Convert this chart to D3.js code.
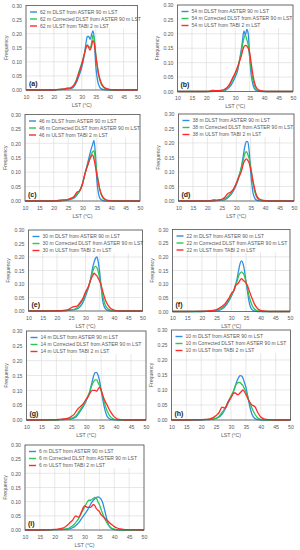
<!DOCTYPE html>
<html><head><meta charset="utf-8">
<script src="https://cdn.jsdelivr.net/npm/d3@7"></script>
<style>body{margin:0;background:#fff}svg{display:block}text{font-family:"Liberation Sans",Arial,sans-serif}</style>
</head><body><div id="chart"></div>
<script>
// LST grid (°C)
const lst = [10,15,20,21,22,23,24,25,26,27,28,29,30,31,31.5,32,32.5,33,33.5,34,34.5,35,35.5,36,37,38,39,40,41,42,43,45,50];
const xTicks = [10,15,20,25,30,35,40,45,50];
const yTicks = [0,0.05,0.10,0.15,0.20,0.25,0.30];
const resolutions = [62,54,46,38,30,22,14,10,6];
const panelLabels = ["(a)","(b)","(c)","(d)","(e)","(f)","(g)","(h)","(i)"];
const seriesColors = ["#2f8ee0","#2dc653","#ff2b2b"];

// (a) 62 m
const dlst_a = [0,0,0,0.001,0.001,0.002,0.003,0.004,0.005,0.01,0.025,0.05,0.08,0.13,0.165,0.19,0.19,0.18,0.195,0.21,0.18,0.09,0.045,0.02,0.004,0.001,0,0,0,0,0,0,0];
const corr_a = [0,0,0,0.001,0.002,0.003,0.004,0.006,0.008,0.015,0.035,0.065,0.095,0.13,0.15,0.16,0.155,0.15,0.165,0.195,0.18,0.13,0.09,0.055,0.02,0.008,0.003,0.001,0,0,0,0,0];
const ulst_a = [0,0,0,0.001,0.002,0.003,0.004,0.007,0.007,0.015,0.03,0.06,0.09,0.13,0.15,0.158,0.15,0.142,0.155,0.175,0.165,0.125,0.09,0.06,0.025,0.01,0.005,0.002,0.001,0,0,0,0];
// (b) 54 m
const dlst_b = [0,0,0,0,0,0.001,0.001,0.002,0.003,0.006,0.015,0.03,0.05,0.08,0.11,0.14,0.175,0.21,0.195,0.215,0.2,0.12,0.06,0.03,0.005,0.001,0,0,0,0,0,0,0];
const corr_b = [0,0,0,0,0.001,0.001,0.002,0.003,0.005,0.01,0.02,0.04,0.06,0.09,0.11,0.13,0.16,0.185,0.195,0.18,0.16,0.12,0.08,0.045,0.012,0.003,0.001,0,0,0,0,0,0];
const ulst_b = [0,0,0,0.001,0.004,0.003,0.003,0.004,0.006,0.012,0.025,0.045,0.065,0.09,0.105,0.12,0.14,0.155,0.16,0.158,0.15,0.135,0.1,0.065,0.02,0.006,0.002,0.001,0,0,0,0,0];
// (c) 46 m
const dlst_c = [0,0,0,0,0,0.001,0.002,0.004,0.006,0.01,0.02,0.035,0.06,0.1,0.12,0.14,0.16,0.18,0.195,0.21,0.16,0.07,0.03,0.01,0.002,0,0,0,0,0,0,0,0];
const corr_c = [0,0,0,0,0.001,0.002,0.003,0.005,0.008,0.013,0.025,0.035,0.06,0.1,0.115,0.13,0.145,0.16,0.17,0.175,0.14,0.1,0.07,0.04,0.012,0.004,0.001,0,0,0,0,0,0];
const ulst_c = [0,0,0,0.001,0.003,0.004,0.004,0.006,0.01,0.015,0.03,0.035,0.06,0.1,0.115,0.13,0.145,0.155,0.16,0.145,0.12,0.09,0.065,0.04,0.015,0.005,0.002,0.001,0,0,0,0,0];
// (d) 38 m
const dlst_d = [0,0,0,0,0,0.001,0.002,0.003,0.004,0.01,0.02,0.035,0.055,0.085,0.105,0.13,0.16,0.19,0.205,0.205,0.17,0.1,0.05,0.02,0.003,0.001,0,0,0,0,0,0,0];
const corr_d = [0,0,0,0,0.001,0.002,0.003,0.005,0.008,0.015,0.025,0.04,0.06,0.09,0.105,0.12,0.145,0.165,0.17,0.16,0.145,0.12,0.085,0.05,0.015,0.004,0.001,0,0,0,0,0,0];
const ulst_d = [0,0,0,0.001,0.004,0.003,0.004,0.006,0.012,0.025,0.03,0.04,0.06,0.085,0.095,0.11,0.13,0.14,0.145,0.14,0.13,0.11,0.085,0.06,0.02,0.007,0.003,0.001,0,0,0,0,0];
// (e) 30 m
const dlst_e = [0,0,0,0,0.001,0.001,0.002,0.004,0.005,0.008,0.015,0.03,0.055,0.085,0.105,0.13,0.16,0.18,0.195,0.2,0.18,0.14,0.09,0.04,0.008,0.002,0,0,0,0,0,0,0];
const corr_e = [0,0,0,0.001,0.001,0.002,0.003,0.005,0.006,0.012,0.025,0.04,0.065,0.09,0.105,0.125,0.145,0.16,0.165,0.16,0.145,0.12,0.09,0.06,0.02,0.007,0.002,0.001,0,0,0,0,0];
const ulst_e = [0,0,0.001,0.001,0.002,0.003,0.005,0.012,0.016,0.018,0.03,0.045,0.07,0.09,0.105,0.12,0.13,0.14,0.135,0.13,0.12,0.11,0.095,0.075,0.04,0.02,0.008,0.003,0.001,0,0,0,0];
// (f) 22 m
const dlst_f = [0,0,0,0,0.001,0.001,0.002,0.003,0.005,0.01,0.02,0.035,0.055,0.08,0.1,0.12,0.15,0.175,0.185,0.175,0.15,0.11,0.075,0.04,0.008,0.002,0,0,0,0,0,0,0];
const corr_f = [0,0,0,0.001,0.001,0.002,0.004,0.006,0.008,0.015,0.025,0.04,0.06,0.08,0.095,0.11,0.13,0.14,0.145,0.14,0.13,0.11,0.085,0.06,0.025,0.008,0.002,0.001,0,0,0,0,0];
const ulst_f = [0,0,0.001,0.001,0.002,0.003,0.004,0.007,0.013,0.02,0.03,0.045,0.065,0.08,0.095,0.1,0.105,0.115,0.12,0.115,0.11,0.105,0.095,0.08,0.05,0.025,0.01,0.004,0.002,0.001,0,0,0];
// (g) 14 m
const dlst_g = [0,0,0,0.001,0.001,0.002,0.003,0.004,0.007,0.015,0.03,0.045,0.065,0.09,0.11,0.13,0.15,0.16,0.16,0.15,0.13,0.1,0.07,0.045,0.012,0.003,0.001,0,0,0,0,0,0];
const corr_g = [0,0,0,0.001,0.002,0.003,0.004,0.006,0.01,0.02,0.035,0.05,0.07,0.09,0.105,0.12,0.13,0.135,0.135,0.125,0.115,0.1,0.08,0.06,0.03,0.012,0.004,0.001,0,0,0,0,0];
const ulst_g = [0,0,0.001,0.002,0.003,0.004,0.006,0.012,0.02,0.035,0.045,0.055,0.07,0.085,0.095,0.1,0.1,0.1,0.097,0.105,0.11,0.1,0.085,0.07,0.05,0.03,0.015,0.006,0.002,0.001,0,0,0];
// (h) 10 m
const dlst_h = [0,0,0,0.001,0.001,0.002,0.003,0.005,0.01,0.02,0.035,0.055,0.075,0.1,0.115,0.13,0.14,0.148,0.147,0.14,0.125,0.11,0.085,0.06,0.02,0.005,0.001,0,0,0,0,0,0];
const corr_h = [0,0,0.001,0.001,0.002,0.003,0.004,0.006,0.013,0.025,0.04,0.06,0.08,0.1,0.115,0.122,0.125,0.125,0.12,0.115,0.105,0.095,0.08,0.065,0.04,0.02,0.007,0.002,0.001,0,0,0,0];
const ulst_h = [0,0,0.001,0.002,0.002,0.004,0.008,0.015,0.025,0.043,0.04,0.06,0.075,0.09,0.09,0.085,0.085,0.09,0.095,0.1,0.095,0.085,0.075,0.065,0.05,0.045,0.025,0.01,0.004,0.002,0.001,0,0];
// (i) 6 m
const dlst_i = [0,0,0.001,0.001,0.001,0.002,0.003,0.004,0.008,0.015,0.025,0.04,0.055,0.07,0.08,0.09,0.098,0.105,0.11,0.115,0.117,0.115,0.11,0.1,0.06,0.02,0.005,0.001,0,0,0,0,0];
const corr_i = [0,0,0.001,0.002,0.003,0.003,0.004,0.008,0.015,0.025,0.04,0.06,0.08,0.1,0.105,0.105,0.108,0.112,0.115,0.112,0.1,0.09,0.075,0.06,0.035,0.018,0.007,0.003,0.001,0,0,0,0];
const ulst_i = [0,0,0.002,0.003,0.005,0.008,0.015,0.025,0.035,0.05,0.045,0.065,0.085,0.08,0.08,0.08,0.085,0.09,0.085,0.075,0.07,0.065,0.055,0.05,0.04,0.03,0.02,0.012,0.007,0.004,0.002,0.001,0];

const panelSeries = [
  [dlst_a,corr_a,ulst_a],[dlst_b,corr_b,ulst_b],[dlst_c,corr_c,ulst_c],
  [dlst_d,corr_d,ulst_d],[dlst_e,corr_e,ulst_e],[dlst_f,corr_f,ulst_f],
  [dlst_g,corr_g,ulst_g],[dlst_h,corr_h,ulst_h],[dlst_i,corr_i,ulst_i]
];

// plot-area boxes (layout only)
const boxes = [
  {L:26,R:137.5,T:5.5,B:90},
  {L:177.5,R:293,T:5,B:91.5},
  {L:25,R:140,T:114.5,B:201},
  {L:178.5,R:294,T:114,B:201},
  {L:28.5,R:142.5,T:230,B:311},
  {L:172.5,R:290,T:229.5,B:311.5},
  {L:26.5,R:146,T:331,B:420},
  {L:171.5,R:290.5,T:330,B:420},
  {L:25,R:144,T:445,B:530}
];

const svg = d3.select("#chart").append("svg").attr("width",300).attr("height",550);
const txt = "#595959";

panelSeries.forEach((series,i)=>{
  const b = boxes[i];
  const x = d3.scaleLinear().domain([10,50]).range([b.L,b.R]);
  const y = d3.scaleLinear().domain([0,0.3]).range([b.B,b.T]);
  const g = svg.append("g");

  // gridlines
  g.selectAll(".vg").data(xTicks).join("line")
    .attr("x1",d=>x(d)).attr("x2",d=>x(d)).attr("y1",b.T).attr("y2",b.B)
    .attr("stroke","#d9d9d9").attr("stroke-width",0.6);
  g.selectAll(".hg").data(yTicks).join("line")
    .attr("x1",b.L).attr("x2",b.R).attr("y1",d=>y(d)).attr("y2",d=>y(d))
    .attr("stroke","#d9d9d9").attr("stroke-width",0.6);

  // axes (labels only)
  const ax = g.append("g").attr("transform",`translate(0,${b.B+7})`)
    .call(d3.axisBottom(x).tickValues(xTicks).tickSize(0).tickPadding(0).tickFormat(d3.format("d")));
  ax.select(".domain").remove();
  ax.selectAll("text").attr("fill",txt).attr("font-size",5.2).attr("dy","0.35em")
    .style("font-family","Liberation Sans, Arial, sans-serif");
  const ay = g.append("g").attr("transform",`translate(${b.L-4},0)`)
    .call(d3.axisLeft(y).tickValues(yTicks).tickSize(0).tickPadding(0).tickFormat(d3.format(".2f")));
  ay.select(".domain").remove();
  ay.selectAll("text").attr("fill",txt).attr("font-size",5.2)
    .style("font-family","Liberation Sans, Arial, sans-serif");

  g.append("text").attr("x",(b.L+b.R)/2).attr("y",b.B+15).attr("dy","0.35em")
    .attr("text-anchor","middle").attr("font-size",5.2).attr("fill",txt).text("LST (°C)");
  g.append("text").attr("transform",`translate(${b.L-20},${(b.T+b.B)/2}) rotate(-90)`)
    .attr("text-anchor","middle").attr("dy","0.35em").attr("font-size",5.2).attr("fill",txt).text("Frequency");

  // series lines
  const line = d3.line().x((d,k)=>x(lst[k])).y(d=>y(d)).curve(d3.curveMonotoneX);
  series.forEach((s,k)=>{
    g.append("path").datum(s).attr("d",line).attr("fill","none")
      .attr("stroke",seriesColors[k]).attr("stroke-width",1.3).attr("stroke-linejoin","round");
  });

  // legend
  g.append("rect").attr("x",b.L+1).attr("y",b.T+1).attr("width",b.R-b.L-2).attr("height",22).attr("fill","#fff");
  const res = resolutions[i];
  const names = [`${res} m DLST from ASTER 90 m LST`,`${res} m Corrected DLST from ASTER 90 m LST`,`${res} m ULST from TABI 2 m LST`];
  names.forEach((n,k)=>{
    const yy = b.T+6.5+k*7;
    g.append("line").attr("x1",b.L+4).attr("x2",b.L+11).attr("y1",yy).attr("y2",yy)
      .attr("stroke",seriesColors[k]).attr("stroke-width",1.4);
    g.append("text").attr("x",b.L+14).attr("y",yy).attr("dy","0.35em")
      .attr("font-size",5).attr("fill",txt).text(n);
  });

  // panel label
  g.append("rect").attr("x",b.L+2).attr("y",b.B-11).attr("width",12).attr("height",9).attr("fill","#fff");
  g.append("text").attr("x",b.L+3).attr("y",b.B-6.5).attr("dy","0.35em")
    .attr("font-size",7).attr("font-weight","bold").attr("fill","#222").text(panelLabels[i]);

  // frame
  g.append("rect").attr("x",b.L).attr("y",b.T).attr("width",b.R-b.L).attr("height",b.B-b.T)
    .attr("fill","none").attr("stroke","#555").attr("stroke-width",0.8);
});
</script></body></html>
